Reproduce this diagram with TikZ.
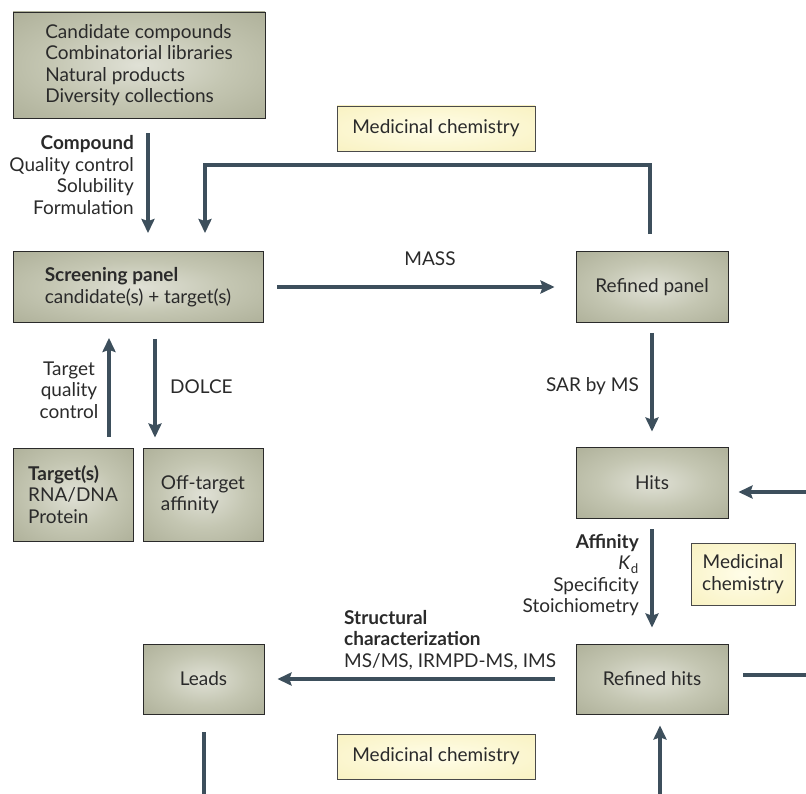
\documentclass[tikz,border=0pt]{standalone}
\usepackage{fontspec}
\setmainfont{Lato}
\usepackage{tikz}
\usetikzlibrary{arrows.meta}
\definecolor{arrowc}{HTML}{3D4F5C}
\definecolor{boxin}{HTML}{E0E1D6}
\definecolor{boxmid}{HTML}{C4C6B2}
\definecolor{boxout}{HTML}{A7A991}
\definecolor{mcin}{HTML}{FFFDE8}
\definecolor{mcout}{HTML}{F7EFB8}
\definecolor{ink}{HTML}{2A2A2A}
\pgfdeclareradialshading{boxglow}{\pgfpoint{0bp}{0bp}}{color(0bp)=(boxin); color(18bp)=(boxmid); color(42bp)=(boxout); color(50bp)=(boxout)}
\pgfdeclareradialshading{mcglow}{\pgfpoint{0bp}{0bp}}{color(0bp)=(mcin); color(45bp)=(mcout); color(50bp)=(mcout)}
\tikzset{
  box/.style={draw=ink, line width=0.9pt, shading=boxglow, minimum width=152pt, minimum height=71pt,
    inner sep=0pt, text=ink, font=\fontsize{19}{21.5}\selectfont},
  medchem/.style={draw=ink!85, line width=0.8pt, shading=mcglow, minimum width=198pt, minimum height=45pt,
    inner sep=0pt, text=ink, font=\fontsize{19}{21.5}\selectfont},
  lbl/.style={inner sep=0pt, text=ink, font=\fontsize{19}{21.5}\selectfont},
  flow/.style={draw=arrowc, line width=4pt, -{Stealth[length=14pt,width=13pt,inset=2pt]}},
  plain/.style={draw=arrowc, line width=4pt}
}
\begin{document}
\begin{tikzpicture}[x=1pt,y=-1pt]
  \useasboundingbox (0,0) rectangle (806,794);
  \node[box, minimum width=252pt, minimum height=106pt, align=left] (cands) at (139,65)
    {Candidate compounds\\Combinatorial libraries\\Natural products\\Diversity collections};
  \node[box, minimum width=250pt, align=left] (screen) at (138,287)
    {\textbf{Screening panel}\\candidate(s) + target(s)};
  \node[box, minimum width=120pt, minimum height=93pt, align=left] (tgt) at (73,494.5)
    {\textbf{Target(s)}\\RNA/DNA\\Protein};
  \node[box, minimum width=120pt, minimum height=93pt, align=left] (offtgt) at (203,494.5)
    {Off-target\\affinity};
  \node[box] (rpanel) at (652,287) {Refined panel};
  \node[box] (hits) at (652,482.5) {Hits};
  \node[box, minimum height=70pt] (rhits) at (652,679) {Refined hits};
  \node[box, minimum width=121pt, minimum height=70pt] (leads) at (203.5,679) {Leads};
  \node[medchem] (mc1) at (436,128.5) {Medicinal chemistry};
  \node[medchem, minimum width=104pt, minimum height=62pt, align=center] (mc2) at (743,574)
    {Medicinal\\chemistry};
  \node[medchem] (mc3) at (436,756.5) {Medicinal chemistry};

  \coordinate (loop) at (205,165);
  \coordinate (hin) at (806,492);
  \coordinate (rout) at (806,675);
  \coordinate (bin) at (660,794);
  \coordinate (lout) at (203,794);

  \draw[flow, shorten <=15pt, shorten >=18pt] ([xshift=9pt]cands.south) -- ([xshift=10pt]screen.north);
  \draw[flow, shorten <=17pt, shorten >=18pt] ([xshift=-2pt]rpanel.north) |- (loop) -- (loop |- screen.north);
  \draw[flow, shorten <=14pt, shorten >=21pt] (screen.east) -- (rpanel.west);
  \draw[flow, shorten <=10pt, shorten >=15pt] (rpanel.south) -- (hits.north);
  \draw[flow, shorten >=10pt] (hin) -- (hin -| hits.east);
  \draw[flow, shorten <=11pt, shorten >=16pt] (hits.south) -- (rhits.north);
  \draw[plain, shorten <=15pt] (rhits.east |- rout) -- (rout);
  \draw[flow, shorten >=11pt] (bin) -- (bin |- rhits.south);
  \draw[flow, shorten <=21pt, shorten >=13pt] (rhits.west) -- (leads.east);
  \draw[plain, shorten <=18pt] (leads.south) -- (leads.south |- lout);
  \draw[flow, shorten <=11pt, shorten >=15pt] ([xshift=36pt]tgt.north) -- ([xshift=-29pt]screen.south);
  \draw[flow, shorten <=16pt, shorten >=10pt] ([xshift=17pt]screen.south) -- ([xshift=-48pt]offtgt.north);

  \node[lbl, anchor=east, align=right] (cmpd) at (134,175)
    {\textbf{Compound}\\Quality control\\Solubility\\Formulation};
  \node[lbl] (mass) at (430,259) {MASS};
  \node[lbl, anchor=east] (sar) at (639,386) {SAR by MS};
  \node[lbl, align=center] (tqc) at (69,390) {Target\\quality\\control};
  \node[lbl, anchor=west] (dolce) at (170,387) {DOLCE};
  \node[lbl, anchor=east, align=right] (aff) at (639,575)
    {\textbf{Affinity}\\\textit{K}\textsubscript{d}\\Specificity\\Stoichiometry};
  \node[lbl, anchor=west, align=left] (struct) at (344,640)
    {\textbf{Structural}\\\textbf{characterization}\\MS/MS, IRMPD-MS, IMS};
\end{tikzpicture}
\end{document}
